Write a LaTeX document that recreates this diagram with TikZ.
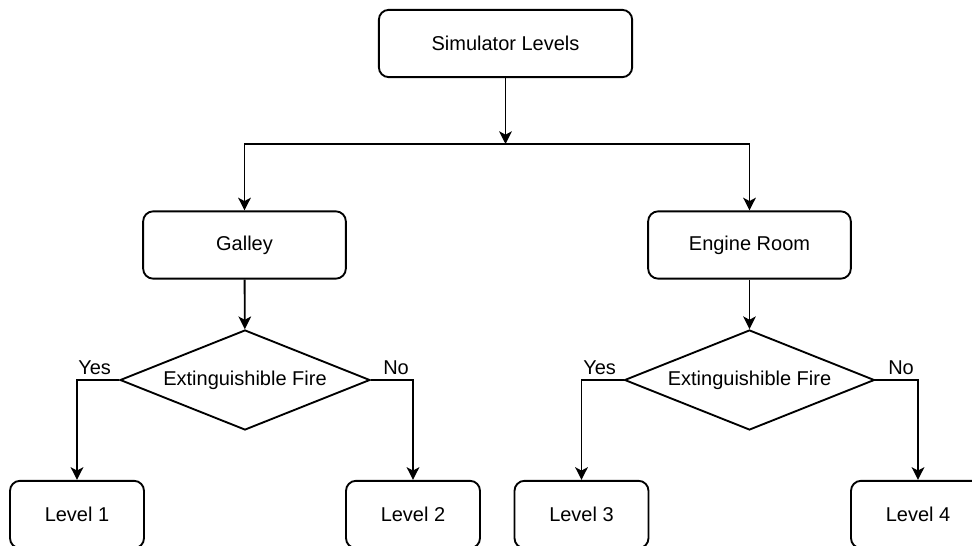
\documentclass[tikz,border=0pt]{standalone}
\usepackage{fontspec}
\setmainfont{Liberation Sans}
\usetikzlibrary{shapes.geometric,arrows.meta}
\begin{document}
\begin{tikzpicture}[x=0.75pt,y=-0.75pt,
  font=\fontsize{15}{18}\selectfont,
  box/.style={draw,line width=1.4pt,rounded corners=7.5pt,minimum width=#1,minimum height=50.5pt,inner sep=0pt,fill=white},
  box/.default=152pt,
  dia/.style={draw,line width=1.4pt,shape=diamond,minimum width=187.5pt,minimum height=75pt,inner sep=0pt,aspect=2.5},
  conn/.style={line width=1.4pt,-{Stealth[length=9.5pt,width=9.5pt,inset=2.5pt]}},
  lbl/.style={inner sep=0pt,anchor=south west}]
\clip (0,0) rectangle (972,546);
\fill[white] (0,0) rectangle (972,546);
\node[box=190pt] (top) at (505.5,43.5) {Simulator Levels};
\node[box=152pt] (gal) at (244.5,245) {Galley};
\node[box=152pt] (eng) at (749.5,245) {Engine Room};
\node[dia] (d1) at (245,380) {Extinguishible Fire};
\node[dia] (d2) at (749.5,380) {Extinguishible Fire};
\node[box=100.5pt] (l1) at (77,514.5) {Level 1};
\node[box=100.5pt] (l2) at (413,514.5) {Level 2};
\node[box=100.5pt] (l3) at (581.5,514.5) {Level 3};
\node[box=100.5pt] (l4) at (918,514.5) {Level 4};
\coordinate (split) at (505.5,144);
\draw[conn] (top) -- (split);
\draw[conn] (split) -| (gal.north);
\draw[conn] (split) -| (eng.north);
\draw[conn] (gal) -- (d1);
\draw[conn] (eng) -- (d2);
\draw[conn] (d1.west) -| (l1.north);
\draw[conn] (d1.east) -| (l2.north);
\draw[conn] (d2.west) -| (l3.north);
\draw[conn] (d2.east) -| (l4.north);
\node[lbl] (y1) at (78,375) {Yes};
\node[lbl] (n1) at (383,375) {No};
\node[lbl] (y2) at (583,375) {Yes};
\node[lbl] (n2) at (888,375) {No};
\end{tikzpicture}
\end{document}
